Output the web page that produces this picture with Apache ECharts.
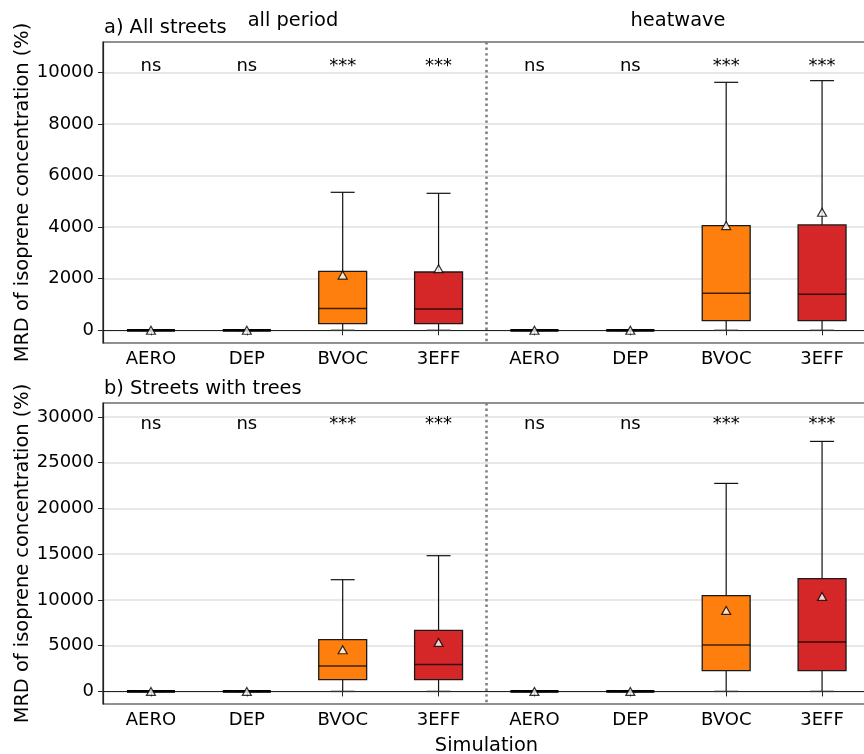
<!DOCTYPE html>
<html>
<head>
<meta charset="utf-8">
<script src="https://cdn.jsdelivr.net/npm/echarts@6/dist/echarts.min.js"></script>
<style>html,body{margin:0;padding:0;background:#fff;}#chart{width:864px;height:754px;}</style>
</head>
<body>
<div id="chart"></div>
<script>
// ---- data ----
const categories = ['AERO', 'DEP', 'BVOC', '3EFF', 'AERO', 'DEP', 'BVOC', '3EFF'];
const periods = ['all period', 'heatwave'];
const boxColors = ['#1f77b4', '#2ca02c', '#ff7f0e', '#d62728', '#1f77b4', '#2ca02c', '#ff7f0e', '#d62728'];
const sigLabels = ['ns', 'ns', '***', '***', 'ns', 'ns', '***', '***'];
// [whisker low, Q1, median, Q3, whisker high]
const statsA = [
  [-5, 0, 0, 0, 5],
  [-5, 0, 0, 0, 5],
  [0, 260, 841, 2287, 5349],
  [0, 260, 826, 2260, 5310],
  [-5, 0, 0, 0, 5],
  [-5, 0, 0, 0, 5],
  [0, 375, 1434, 4057, 9612],
  [0, 375, 1395, 4083, 9677]
];
const meansA = [0, 0, 2140, 2390, 0, 0, 4060, 4574];
const statsB = [
  [-10, 0, 0, 0, 10],
  [-10, 0, 0, 0, 10],
  [0, 1279, 2777, 5652, 12212],
  [0, 1279, 2952, 6669, 14836],
  [-10, 0, 0, 0, 10],
  [-10, 0, 0, 0, 10],
  [0, 2263, 5073, 10462, 22740],
  [0, 2263, 5401, 12321, 27332]
];
const meansB = [0, 0, 4559, 5357, 0, 0, 8855, 10386];
const yTicksA = [0, 2000, 4000, 6000, 8000, 10000];
const yTicksB = [0, 5000, 10000, 15000, 20000, 25000, 30000];
const yRangeA = [-492, 11175];
const yRangeB = [-1378, 31530];
const sigYA = 9900;
const sigYB = 28200;

// ---- chart ----
const FONT = 'DejaVu Sans';
const BIG = 19.4;
const chart = echarts.init(document.getElementById('chart'), null, {renderer: 'canvas'});

function boxRender(params, api) {
  const i = params.dataIndex;
  const x = api.value(0);
  const lo = api.coord([x, api.value(1)]);
  const q1 = api.coord([x, api.value(2)]);
  const md = api.coord([x, api.value(3)]);
  const q3 = api.coord([x, api.value(4)]);
  const hi = api.coord([x, api.value(5)]);
  const band = api.size([1, 0])[0];
  const bw = band * 0.5, cw = bw * 0.5;
  const cx = md[0];
  const ln = '#111';
  const children = [
    {type: 'line', shape: {x1: cx, y1: q3[1], x2: cx, y2: hi[1]}, style: {stroke: ln, lineWidth: 1.2}},
    {type: 'line', shape: {x1: cx, y1: q1[1], x2: cx, y2: lo[1]}, style: {stroke: ln, lineWidth: 1.2}},
    {type: 'line', shape: {x1: cx - cw / 2, y1: hi[1], x2: cx + cw / 2, y2: hi[1]}, style: {stroke: ln, lineWidth: 1.2}},
    {type: 'line', shape: {x1: cx - cw / 2, y1: lo[1], x2: cx + cw / 2, y2: lo[1]}, style: {stroke: '#333', lineWidth: 1.4}},
    {type: 'rect', shape: {x: cx - bw / 2, y: q3[1], width: bw, height: Math.max(q1[1] - q3[1], 0)},
      style: {fill: boxColors[i], stroke: '#1a1a1a', lineWidth: 1.3}},
    {type: 'line', shape: {x1: cx - bw / 2, y1: md[1], x2: cx + bw / 2, y2: md[1]}, style: {stroke: 'rgba(0,0,0,0.75)', lineWidth: 1.5}}
  ];
  if (q1[1] - q3[1] < 1) {
    children.push({type: 'line', shape: {x1: cx - bw / 2, y1: md[1], x2: cx + bw / 2, y2: md[1]}, style: {stroke: '#000', lineWidth: 2.8}});
  }
  return {type: 'group', children: children};
}

function sigRender(params, api) {
  const p = api.coord([api.value(0), api.value(1)]);
  return {type: 'text', x: p[0], y: p[1],
    style: {text: sigLabels[params.dataIndex], fill: '#000', font: '18px "' + FONT + '"', textAlign: 'center', textVerticalAlign: 'bottom'}};
}

function dividerRender(params, api) {
  const a = api.coord([api.value(0), 0]);
  const b = api.coord([api.value(1), 0]);
  const x = (a[0] + b[0]) / 2;
  const cs = params.coordSys;
  return {type: 'line', shape: {x1: x, y1: cs.y, x2: x, y2: cs.y + cs.height},
    style: {stroke: '#808080', lineWidth: 2.6, lineDash: [2.4, 3.2]}};
}

function makeX(gi, withName) {
  const ax = {
    type: 'category', gridIndex: gi, data: categories, boundaryGap: true,
    axisLine: {show: true, lineStyle: {color: '#222', width: 1.2}},
    axisTick: {show: true, alignWithLabel: true, length: 5, lineStyle: {color: '#222'}},
    axisLabel: {color: '#000', fontSize: 18, fontFamily: FONT, margin: 7, interval: 0},
    splitLine: {show: false}
  };
  if (withName) {
    ax.name = 'Simulation';
    ax.nameLocation = 'middle';
    ax.nameGap = 32;
    ax.nameMoveOverlap = false;
    ax.nameTextStyle = {color: '#000', fontSize: BIG, fontFamily: FONT};
  }
  return ax;
}
function makeY(gi, range, ticks) {
  return {
    type: 'value', gridIndex: gi, min: range[0], max: range[1], splitNumber: 6,
    name: 'MRD of isoprene concentration (%)', nameLocation: 'middle', nameGap: 71,
    nameMoveOverlap: false,
    nameTextStyle: {color: '#000', fontSize: BIG, fontFamily: FONT},
    axisLine: {show: true, lineStyle: {color: '#222', width: 1.2}},
    axisTick: {show: true, length: 5, lineStyle: {color: '#222'}, customValues: ticks},
    axisLabel: {color: '#000', fontSize: 18, fontFamily: FONT, margin: 9, customValues: ticks,
      formatter: v => String(v)},
    splitLine: {show: true, lineStyle: {color: '#e0e0e0', width: 1.5}}
  };
}

const titleStyle = {fontSize: BIG, fontWeight: 'normal', color: '#000', fontFamily: FONT};
const option = {
  backgroundColor: '#fff',
  animation: false,
  textStyle: {fontFamily: FONT},
  title: [
    {text: 'a) All streets', left: 104, top: 18.6, padding: 0, textStyle: titleStyle},
    {text: periods[0], left: 293, top: 11.9, padding: 0, textAlign: 'center', textStyle: titleStyle},
    {text: periods[1], left: 678, top: 11.9, padding: 0, textAlign: 'center', textStyle: titleStyle},
    {text: 'b) Streets with trees', left: 104, top: 379.6, padding: 0, textStyle: titleStyle}
  ],
  grid: [
    {left: 103, top: 42, width: 767, height: 301, outerBoundsMode: 'none', containLabel: false,
      show: true, borderColor: '#222', borderWidth: 1.2, backgroundColor: 'transparent'},
    {left: 103, top: 403, width: 767, height: 301, outerBoundsMode: 'none', containLabel: false,
      show: true, borderColor: '#222', borderWidth: 1.2, backgroundColor: 'transparent'}
  ],
  xAxis: [makeX(0, false), makeX(1, true)],
  yAxis: [makeY(0, yRangeA, yTicksA), makeY(1, yRangeB, yTicksB)],
  series: [
    {type: 'custom', xAxisIndex: 0, yAxisIndex: 0, renderItem: boxRender, z: 2,
      data: statsA.map((s, i) => [i].concat(s)), encode: {x: 0, y: [1, 2, 3, 4, 5]}},
    {type: 'custom', xAxisIndex: 1, yAxisIndex: 1, renderItem: boxRender, z: 2,
      data: statsB.map((s, i) => [i].concat(s)), encode: {x: 0, y: [1, 2, 3, 4, 5]}},
    {type: 'scatter', xAxisIndex: 0, yAxisIndex: 0, symbol: 'triangle', symbolSize: [9, 8], z: 4,
      itemStyle: {color: '#fff', borderColor: '#000', borderWidth: 1.2},
      data: meansA.map((m, i) => [i, m])},
    {type: 'scatter', xAxisIndex: 1, yAxisIndex: 1, symbol: 'triangle', symbolSize: [9, 8], z: 4,
      itemStyle: {color: '#fff', borderColor: '#000', borderWidth: 1.2},
      data: meansB.map((m, i) => [i, m])},
    {type: 'custom', xAxisIndex: 0, yAxisIndex: 0, renderItem: sigRender, z: 5,
      data: sigLabels.map((s, i) => [i, sigYA]), encode: {x: 0, y: 1}},
    {type: 'custom', xAxisIndex: 1, yAxisIndex: 1, renderItem: sigRender, z: 5,
      data: sigLabels.map((s, i) => [i, sigYB]), encode: {x: 0, y: 1}},
    {type: 'custom', xAxisIndex: 0, yAxisIndex: 0, renderItem: dividerRender, z: 3, data: [[3, 4]], encode: {x: [0, 1]}},
    {type: 'custom', xAxisIndex: 1, yAxisIndex: 1, renderItem: dividerRender, z: 3, data: [[3, 4]], encode: {x: [0, 1]}}
  ]
};
chart.setOption(option);
</script>
</body>
</html>
